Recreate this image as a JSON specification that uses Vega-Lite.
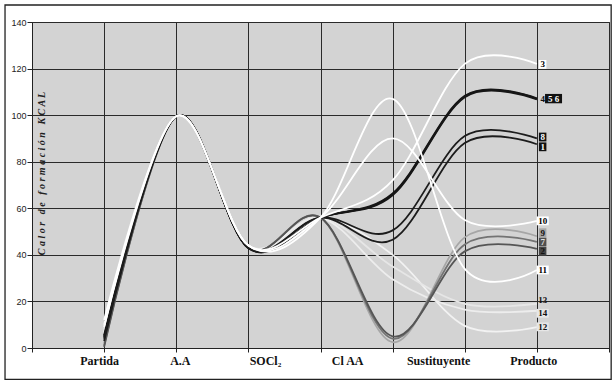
{
  "$schema": "https://vega.github.io/schema/vega-lite/v6.json",
  "width": 577,
  "height": 326,
  "autosize": {"type": "none"},
  "padding": {"left": 32, "top": 22, "right": 3, "bottom": 34},
  "background": "#ffffff",
  "config": {
    "view": {"fill": "#d3d3d3", "stroke": "#333333", "strokeWidth": 1},
    "axis": {"domainColor": "#222222", "tickColor": "#222222", "gridColor": "#2a2a2a", "gridOpacity": 1, "gridWidth": 1}
  },
  "datasets": {
    "series": [
      {"serie": "12", "paso": 0, "v": 7}, {"serie": "12", "paso": 1, "v": 99.5}, {"serie": "12", "paso": 2, "v": 44}, {"serie": "12", "paso": 3, "v": 56}, {"serie": "12", "paso": 4, "v": 40}, {"serie": "12", "paso": 5, "v": 9.5}, {"serie": "12", "paso": 6, "v": 9},
      {"serie": "13", "paso": 0, "v": 8}, {"serie": "13", "paso": 1, "v": 99.5}, {"serie": "13", "paso": 2, "v": 44}, {"serie": "13", "paso": 3, "v": 56}, {"serie": "13", "paso": 4, "v": 35}, {"serie": "13", "paso": 5, "v": 19}, {"serie": "13", "paso": 6, "v": 19},
      {"serie": "14", "paso": 0, "v": 6}, {"serie": "14", "paso": 1, "v": 99.5}, {"serie": "14", "paso": 2, "v": 44}, {"serie": "14", "paso": 3, "v": 56}, {"serie": "14", "paso": 4, "v": 29.5}, {"serie": "14", "paso": 5, "v": 16.5}, {"serie": "14", "paso": 6, "v": 16},
      {"serie": "9", "paso": 0, "v": 2}, {"serie": "9", "paso": 1, "v": 99.5}, {"serie": "9", "paso": 2, "v": 43}, {"serie": "9", "paso": 3, "v": 56}, {"serie": "9", "paso": 4, "v": 2.5}, {"serie": "9", "paso": 5, "v": 47.5}, {"serie": "9", "paso": 6, "v": 48},
      {"serie": "7", "paso": 0, "v": 1}, {"serie": "7", "paso": 1, "v": 99.5}, {"serie": "7", "paso": 2, "v": 43}, {"serie": "7", "paso": 3, "v": 56}, {"serie": "7", "paso": 4, "v": 4}, {"serie": "7", "paso": 5, "v": 44.5}, {"serie": "7", "paso": 6, "v": 45.6},
      {"serie": "2", "paso": 0, "v": 0.5}, {"serie": "2", "paso": 1, "v": 99.5}, {"serie": "2", "paso": 2, "v": 43}, {"serie": "2", "paso": 3, "v": 56}, {"serie": "2", "paso": 4, "v": 5}, {"serie": "2", "paso": 5, "v": 41.5}, {"serie": "2", "paso": 6, "v": 42.6},
      {"serie": "4", "paso": 0, "v": 5}, {"serie": "4", "paso": 1, "v": 99.5}, {"serie": "4", "paso": 2, "v": 43}, {"serie": "4", "paso": 3, "v": 56}, {"serie": "4", "paso": 4, "v": 66}, {"serie": "4", "paso": 5, "v": 108}, {"serie": "4", "paso": 6, "v": 107},
      {"serie": "5", "paso": 0, "v": 5.5}, {"serie": "5", "paso": 1, "v": 99.5}, {"serie": "5", "paso": 2, "v": 43.2}, {"serie": "5", "paso": 3, "v": 56}, {"serie": "5", "paso": 4, "v": 66.4}, {"serie": "5", "paso": 5, "v": 108.3}, {"serie": "5", "paso": 6, "v": 107.2},
      {"serie": "6", "paso": 0, "v": 4.5}, {"serie": "6", "paso": 1, "v": 99.5}, {"serie": "6", "paso": 2, "v": 42.8}, {"serie": "6", "paso": 3, "v": 56}, {"serie": "6", "paso": 4, "v": 65.6}, {"serie": "6", "paso": 5, "v": 107.7}, {"serie": "6", "paso": 6, "v": 106.8},
      {"serie": "8", "paso": 0, "v": 3}, {"serie": "8", "paso": 1, "v": 99.5}, {"serie": "8", "paso": 2, "v": 43}, {"serie": "8", "paso": 3, "v": 56}, {"serie": "8", "paso": 4, "v": 50.5}, {"serie": "8", "paso": 5, "v": 91}, {"serie": "8", "paso": 6, "v": 90},
      {"serie": "1", "paso": 0, "v": 4}, {"serie": "1", "paso": 1, "v": 99.5}, {"serie": "1", "paso": 2, "v": 43}, {"serie": "1", "paso": 3, "v": 56}, {"serie": "1", "paso": 4, "v": 46.5}, {"serie": "1", "paso": 5, "v": 88}, {"serie": "1", "paso": 6, "v": 87.5},
      {"serie": "11", "paso": 0, "v": 9}, {"serie": "11", "paso": 1, "v": 99.5}, {"serie": "11", "paso": 2, "v": 44}, {"serie": "11", "paso": 3, "v": 56}, {"serie": "11", "paso": 4, "v": 107}, {"serie": "11", "paso": 5, "v": 34}, {"serie": "11", "paso": 6, "v": 33.5},
      {"serie": "10", "paso": 0, "v": 10}, {"serie": "10", "paso": 1, "v": 99.5}, {"serie": "10", "paso": 2, "v": 44}, {"serie": "10", "paso": 3, "v": 56}, {"serie": "10", "paso": 4, "v": 90}, {"serie": "10", "paso": 5, "v": 55}, {"serie": "10", "paso": 6, "v": 54.6},
      {"serie": "3", "paso": 0, "v": 12}, {"serie": "3", "paso": 1, "v": 99.5}, {"serie": "3", "paso": 2, "v": 44}, {"serie": "3", "paso": 3, "v": 56}, {"serie": "3", "paso": 4, "v": 72}, {"serie": "3", "paso": 5, "v": 122}, {"serie": "3", "paso": 6, "v": 122}
    ],
    "labels": [
      {"lab": "3", "v": 121.8, "style": "w", "col": "a"},
      {"lab": "4", "v": 107.1, "style": "none", "col": "a"},
      {"lab": "5 6", "v": 107.1, "style": "k", "col": "b"},
      {"lab": "8", "v": 90.6, "style": "k", "col": "a"},
      {"lab": "1", "v": 86.4, "style": "k", "col": "a"},
      {"lab": "10", "v": 54.6, "style": "w", "col": "a"},
      {"lab": "9", "v": 49.5, "style": "g9", "col": "a"},
      {"lab": "7", "v": 45.5, "style": "g7", "col": "a"},
      {"lab": "2", "v": 41.5, "style": "g2", "col": "a"},
      {"lab": "11", "v": 33.5, "style": "w", "col": "a"},
      {"lab": "13", "v": 20.6, "style": "none", "col": "a"},
      {"lab": "14", "v": 14.9, "style": "l", "col": "a"},
      {"lab": "12", "v": 9.1, "style": "l", "col": "a"}
    ]
  },
  "resolve": {"axis": {"x": "independent"}},
  "layer": [
    {
      "data": {"values": [{}]},
      "mark": {"type": "rect", "fill": "transparent", "stroke": "#222222", "strokeWidth": 1.3, "clip": false},
      "encoding": {
        "x": {"datum": -1.374, "type": "quantitative", "scale": {"domain": [-1, 7], "nice": false, "zero": false},
          "axis": {"orient": "bottom", "values": [-0.07, 1.05, 2.23, 3.37, 4.63, 5.95], "labelExpr": "datum.value < 0.5 ? 'Partida' : datum.value < 1.5 ? 'A.A' : datum.value < 2.8 ? 'SOCl₂' : datum.value < 4 ? 'Cl AA' : datum.value < 5.3 ? 'Sustituyente' : 'Producto'", "ticks": false, "domain": false, "grid": false, "title": null, "labelFont": "Liberation Serif", "labelFontWeight": "bold", "labelFontSize": 12, "labelColor": "#111111", "labelPadding": 7, "labelFlush": false, "labelOverlap": false, "labelBound": false}},
        "x2": {"datum": 7.03},
        "y": {"datum": 147.3, "type": "quantitative"},
        "y2": {"datum": -13.5}
      }
    },
    {
      "data": {"name": "series"},
      "mark": {"type": "line", "interpolate": "cardinal", "strokeWidth": 1.8},
      "encoding": {
        "x": {"field": "paso", "type": "quantitative", "scale": {"domain": [-1, 7], "nice": false, "zero": false},
          "axis": {"orient": "bottom", "values": [-1, 0, 1, 2, 3, 4, 5, 6, 7], "labels": false, "ticks": true, "tickSize": 4, "domain": true, "grid": true, "title": null}},
        "y": {"field": "v", "type": "quantitative", "scale": {"domain": [0, 140], "nice": false, "zero": false},
          "axis": {"values": [0, 20, 40, 60, 80, 100, 120, 140], "grid": true, "tickSize": 5, "labelFont": "Liberation Sans", "labelFontSize": 9, "labelColor": "#222222", "labelPadding": 1,
            "title": "C a l o r\u2002 d e\u2002 f o r m a c i ó n\u2002 K C A L", "titleFont": "Liberation Serif", "titleFontStyle": "italic", "titleFontWeight": "bold", "titleFontSize": 10, "titleColor": "#222222", "titleX": 9, "titleY": 151, "titleBaseline": "middle", "titleAngle": -90}},
        "stroke": {"field": "serie", "type": "nominal",
          "scale": {"domain": ["12", "13", "14", "9", "7", "2", "4", "5", "6", "8", "1", "11", "10", "3"],
            "range": ["#f2f2f2", "#e6e6e6", "#ededed", "#a6a6a6", "#737373", "#555555", "#161616", "#161616", "#161616", "#1c1c1c", "#1c1c1c", "#ffffff", "#ffffff", "#ffffff"]},
          "legend": null}
      }
    },
    {
      "data": {"name": "labels"},
      "transform": [{"filter": "datum.style != 'none' && datum.col == 'a'"}, {"calculate": "length(datum.lab)", "as": "n"}],
      "mark": {"type": "point", "filled": true, "opacity": 1, "strokeWidth": 0, "size": 256, "clip": false},
      "encoding": {
        "x": {"datum": 6.08, "type": "quantitative", "axis": null},
        "y": {"field": "v", "type": "quantitative"},
        "shape": {"field": "n", "type": "ordinal", "scale": {"domain": [1, 2], "range": ["M-0.47,-0.55H0.47V0.55H-0.47Z", "M-0.76,-0.55H0.76V0.55H-0.76Z"]}, "legend": null},
        "fill": {"field": "style", "type": "nominal", "scale": {"domain": ["w", "k", "g9", "g7", "g2", "l"], "range": ["#ffffff", "#111111", "#a5a5a5", "#4f4f4f", "#454545", "#e6e6e6"]}, "legend": null}
      }
    },
    {
      "data": {"name": "labels"},
      "transform": [{"filter": "datum.col == 'b'"}],
      "mark": {"type": "point", "filled": true, "opacity": 1, "strokeWidth": 0, "size": 289, "shape": "M-1,-0.55H1V0.55H-1Z", "clip": false},
      "encoding": {
        "x": {"datum": 6.231, "type": "quantitative", "axis": null},
        "y": {"field": "v", "type": "quantitative"},
        "fill": {"field": "style", "type": "nominal", "legend": null}
      }
    },
    {
      "data": {"name": "labels"},
      "transform": [{"filter": "datum.col == 'a'"}],
      "mark": {"type": "text", "font": "Liberation Serif", "fontWeight": "bold", "fontSize": 9, "baseline": "middle", "align": "center", "clip": false},
      "encoding": {
        "x": {"datum": 6.08, "type": "quantitative", "axis": null},
        "y": {"field": "v", "type": "quantitative"},
        "text": {"field": "lab"},
        "color": {"field": "style", "type": "nominal", "scale": {"domain": ["w", "k", "g9", "g7", "g2", "l", "none"], "range": ["#000000", "#ffffff", "#111111", "#e0e0e0", "#111111", "#111111", "#111111"]}, "legend": null}
      }
    },
    {
      "data": {"name": "labels"},
      "transform": [{"filter": "datum.col == 'b'"}],
      "mark": {"type": "text", "font": "Liberation Serif", "fontWeight": "bold", "fontSize": 9, "baseline": "middle", "align": "center", "clip": false},
      "encoding": {
        "x": {"datum": 6.231, "type": "quantitative", "axis": null},
        "y": {"field": "v", "type": "quantitative"},
        "text": {"field": "lab"},
        "color": {"field": "style", "type": "nominal", "legend": null}
      }
    }
  ]
}
